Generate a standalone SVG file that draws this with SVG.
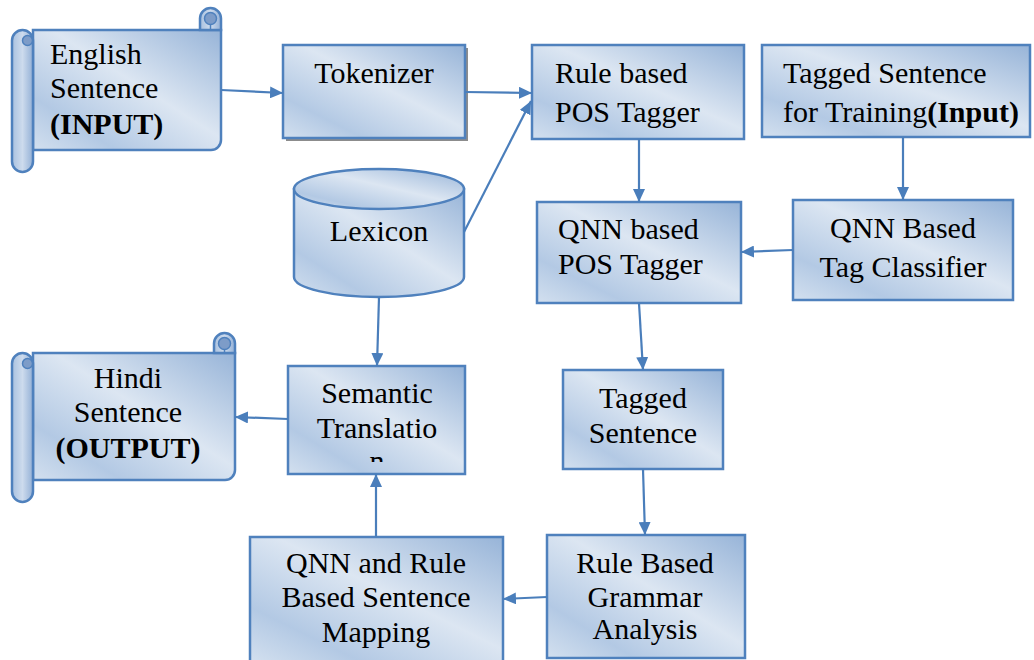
<svg xmlns="http://www.w3.org/2000/svg" width="1034" height="660" viewBox="0 0 1034 660">
<style>
.box{fill:url(#g);stroke:#4f81bd;stroke-width:2.5}
.roll{fill:url(#g2);stroke:#4f81bd;stroke-width:2.5}
.curl{fill:#7d9cc8;stroke:#4f81bd;stroke-width:1.5}
.t{font-family:"Liberation Serif","Times New Roman",serif;font-size:30px;fill:#000}
.c{text-anchor:middle}
.b{font-weight:bold}
.ln{fill:none;stroke:#4a7ebb;stroke-width:2.2}
</style>
<defs>
<linearGradient id="g" x1="1" y1="0" x2="0" y2="1">
<stop offset="0" stop-color="#97b4d8"/>
<stop offset="0.45" stop-color="#dce6f2"/>
<stop offset="0.78" stop-color="#b3c9e4"/>
<stop offset="1" stop-color="#d3e0ef"/>
</linearGradient>
<linearGradient id="g2" x1="0" y1="0" x2="1" y2="0">
<stop offset="0" stop-color="#a9c1df"/>
<stop offset="0.5" stop-color="#cddbed"/>
<stop offset="1" stop-color="#93b0d6"/>
</linearGradient>
<marker id="ah" markerUnits="userSpaceOnUse" markerWidth="14" markerHeight="12" refX="13" refY="6" orient="auto">
<path d="M0,0 L13,6 L0,12 Z" fill="#4a7ebb"/>
</marker>
<clipPath id="semclip"><rect x="289" y="367" width="175" height="95"/></clipPath>
</defs>

<g id="english">
<path class="box" d="M33,30 H221 V140 A10,10 0 0 1 211,150 H33 Z"/>
<path class="roll" d="M12,40.5 A10.5,10.5 0 0 1 33,40.5 V161.5 A10.5,10.5 0 0 1 12,161.5 Z"/>
<circle class="curl" cx="27.5" cy="40.5" r="5"/>
<path class="roll" d="M200,30 V18.5 A10.5,10.5 0 0 1 221,18.5 V30 Z"/>
<circle class="curl" cx="210.5" cy="18.5" r="6"/>
<path d="M210.5,24.5 V30" stroke="#4f81bd" stroke-width="1.5"/>
<text class="t" x="50" y="64">English</text>
<text class="t" x="50" y="98">Sentence</text>
<text class="t b" x="50" y="134">(INPUT)</text>
</g>

<g id="tokenizer">
<rect x="286" y="48" width="182" height="93" fill="#8c8c8c"/>
<rect class="box" x="283" y="45" width="182" height="93"/>
<text class="t c" x="374" y="83">Tokenizer</text>
</g>

<g id="rule-pos">
<rect class="box" x="532" y="45" width="212" height="94"/>
<text class="t" x="555" y="83">Rule based</text>
<text class="t" x="555" y="122">POS Tagger</text>
</g>

<g id="tagged-training">
<rect class="box" x="762" y="45" width="268" height="92"/>
<text class="t" x="783" y="83">Tagged Sentence</text>
<text class="t" x="783" y="122">for Training<tspan class="b">(Input)</tspan></text>
</g>

<g id="lexicon">
<path class="box" d="M294,189 V277 A85,20 0 0 0 464,277 V189 Z"/>
<ellipse class="box" cx="379" cy="189" rx="85" ry="20"/>
<text class="t c" x="379" y="241">Lexicon</text>
</g>

<g id="qnn-pos">
<rect class="box" x="537" y="202" width="204" height="101"/>
<text class="t" x="558" y="239">QNN based</text>
<text class="t" x="558" y="274">POS Tagger</text>
</g>

<g id="tag-classifier">
<rect class="box" x="793" y="200" width="220" height="100"/>
<text class="t c" x="903" y="238">QNN Based</text>
<text class="t c" x="903" y="277">Tag Classifier</text>
</g>

<g id="tagged-sentence">
<rect class="box" x="563" y="370" width="160" height="99"/>
<text class="t c" x="643" y="408">Tagged</text>
<text class="t c" x="643" y="443">Sentence</text>
</g>

<g id="semantic">
<rect class="box" x="288" y="366" width="177" height="108"/>
<text class="t c" x="377" y="403">Semantic</text>
<text class="t c" x="377" y="438">Translatio</text>
<text class="t c" x="377" y="471" clip-path="url(#semclip)">n</text>
</g>

<g id="hindi">
<path class="box" d="M33,353 H235 V470 A10,10 0 0 1 225,480 H33 Z"/>
<path class="roll" d="M12,363.5 A10.5,10.5 0 0 1 33,363.5 V491.5 A10.5,10.5 0 0 1 12,491.5 Z"/>
<circle class="curl" cx="27.5" cy="363.5" r="5"/>
<path class="roll" d="M214,353 V343.5 A10.5,10.5 0 0 1 235,343.5 V353 Z"/>
<circle class="curl" cx="224.5" cy="343.5" r="6"/>
<path d="M224.5,349.5 V353" stroke="#4f81bd" stroke-width="1.5"/>
<text class="t c" x="128" y="388">Hindi</text>
<text class="t c" x="128" y="422">Sentence</text>
<text class="t c b" x="128" y="458">(OUTPUT)</text>
</g>

<g id="grammar">
<rect class="box" x="547" y="535" width="198" height="123"/>
<text class="t c" x="645" y="573">Rule Based</text>
<text class="t c" x="645" y="607">Grammar</text>
<text class="t c" x="645" y="639">Analysis</text>
</g>

<g id="mapping">
<rect class="box" x="250" y="537" width="253" height="125"/>
<text class="t c" x="376" y="573">QNN and Rule</text>
<text class="t c" x="376" y="607">Based Sentence</text>
<text class="t c" x="376" y="642">Mapping</text>
</g>

<g id="connectors">
<line class="ln" x1="221" y1="90" x2="283" y2="93" marker-end="url(#ah)"/>
<line class="ln" x1="465" y1="92" x2="532" y2="93" marker-end="url(#ah)"/>
<line class="ln" x1="464" y1="232" x2="531" y2="101" marker-end="url(#ah)"/>
<line class="ln" x1="639" y1="139" x2="639" y2="202" marker-end="url(#ah)"/>
<line class="ln" x1="903" y1="137" x2="903" y2="200" marker-end="url(#ah)"/>
<line class="ln" x1="793" y1="250" x2="741" y2="252" marker-end="url(#ah)"/>
<line class="ln" x1="639" y1="303" x2="643" y2="370" marker-end="url(#ah)"/>
<line class="ln" x1="643" y1="469" x2="645" y2="535" marker-end="url(#ah)"/>
<line class="ln" x1="547" y1="597" x2="503" y2="599" marker-end="url(#ah)"/>
<line class="ln" x1="376" y1="537" x2="376" y2="474" marker-end="url(#ah)"/>
<line class="ln" x1="379" y1="297" x2="377" y2="366" marker-end="url(#ah)"/>
<line class="ln" x1="288" y1="419" x2="235" y2="417" marker-end="url(#ah)"/>
</g>
</svg>
